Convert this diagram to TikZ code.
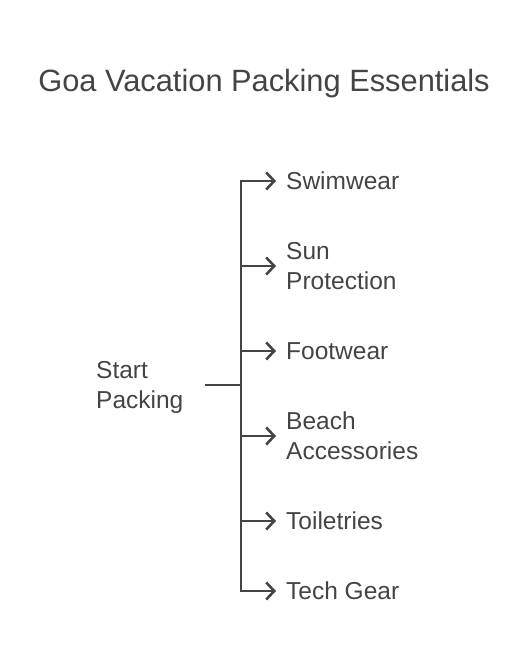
\documentclass[tikz,border=0pt]{standalone}
\usepackage{fontspec}
\setmainfont{Liberation Sans}
\usetikzlibrary{arrows.meta}
\definecolor{ink}{HTML}{444444}
\tikzset{
  lbl/.style={anchor=west, align=left, inner xsep=10pt, inner ysep=0pt, text=ink, font=\fontsize{24.5}{30}\selectfont},
  conn/.style={draw=ink, line width=2.8pt},
  arr/.style={conn, -{Straight Barb[length=8pt,width=17pt,line width=2.6pt]}},
}
\begin{document}
\begin{tikzpicture}[x=1pt,y=-1pt]
\useasboundingbox (0,0) rectangle (528,668);
\node[text=ink, font=\fontsize{30.8}{36}\selectfont] (title) at (264,84) {Goa Vacation Packing Essentials};
\node[anchor=west, align=left, inner sep=0pt, text=ink, font=\fontsize{24.5}{30}\selectfont] (start) at (96,387) {Start\\Packing};
\coordinate (s) at (205,385);
\coordinate (j) at (241,385);
\coordinate (t1) at (241,181);
\coordinate (t2) at (241,266);
\coordinate (t3) at (241,351);
\coordinate (t4) at (241,436);
\coordinate (t5) at (241,521);
\coordinate (t6) at (241,591);
\node[lbl] (l1) at (276,181) {Swimwear};
\node[lbl] (l2) at (276,266) {Sun\\Protection};
\node[lbl] (l3) at (276,351) {Footwear};
\node[lbl] (l4) at (276,436) {Beach\\Accessories};
\node[lbl] (l5) at (276,521) {Toiletries};
\node[lbl] (l6) at (276,591) {Tech Gear};
\draw[conn] (s) -- (j);
\draw[conn] (t1) -- (t6);
\foreach \i in {1,...,6} {\draw[arr] ([xshift=-1.4pt]t\i) -- (l\i.west);}
\end{tikzpicture}
\end{document}
